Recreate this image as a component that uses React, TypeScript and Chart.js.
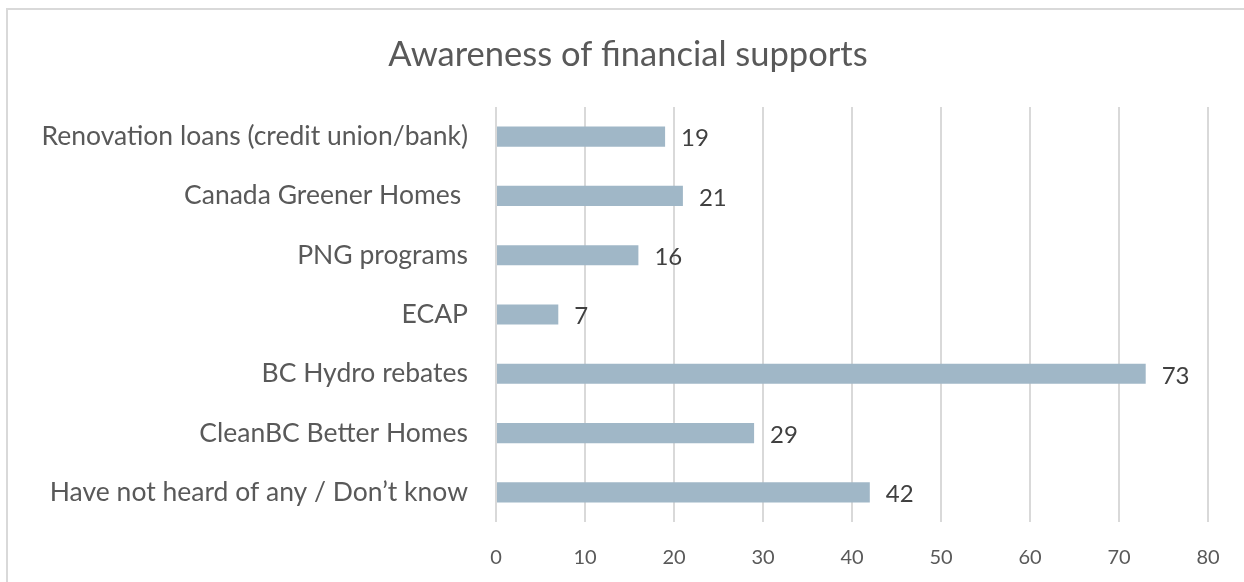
import React, { useEffect, useRef } from "react";
import { Chart, registerables } from "chart.js";

Chart.register(...registerables);

const TITLE = "Awareness of financial supports";
const CATEGORIES = [
  "Renovation loans (credit union/bank)",
  "Canada Greener Homes ",
  "PNG programs",
  "ECAP",
  "BC Hydro rebates",
  "CleanBC Better Homes",
  "Have not heard of any / Don\u2019t know",
];
const VALUES = [19, 21, 16, 7, 73, 29, 42];
const X_MIN = 0;
const X_MAX = 80;
const X_STEP = 10;

const FONT = "Lato, 'Open Sans', sans-serif";

const valueLabels = {
  id: "valueLabels",
  afterDatasetsDraw(chart: any) {
    const ctx = chart.ctx;
    const meta = chart.getDatasetMeta(0);
    ctx.save();
    ctx.font = `24px ${FONT}`;
    ctx.fillStyle = "#404040";
    ctx.textAlign = "left";
    ctx.textBaseline = "middle";
    meta.data.forEach((bar: any, i: number) => {
      ctx.fillText(String(VALUES[i]), bar.x + 16, bar.y + 2);
    });
    ctx.restore();
  },
};

const centeredTitle = {
  id: "centeredTitle",
  afterDraw(chart: any) {
    const ctx = chart.ctx;
    ctx.save();
    ctx.font = `34.5px ${FONT}`;
    ctx.fillStyle = "#595959";
    ctx.textAlign = "center";
    ctx.textBaseline = "middle";
    ctx.fillText(TITLE, 628, 55);
    ctx.restore();
  },
};

export default function App() {
  const ref = useRef<HTMLCanvasElement | null>(null);
  useEffect(() => {
    if (!ref.current) return;
    const chart = new Chart(ref.current, {
      type: "bar",
      data: {
        labels: CATEGORIES,
        datasets: [
          {
            data: VALUES,
            backgroundColor: "#A0B7C7",
            borderWidth: 0,
            categoryPercentage: 1,
            barPercentage: 0.34,
          },
        ],
      },
      options: {
        indexAxis: "y",
        animation: false,
        responsive: false,
        maintainAspectRatio: false,
        layout: { padding: { left: 0, right: 36, top: 107, bottom: 0 } },
        plugins: {
          legend: { display: false },
          tooltip: { enabled: false },
          title: { display: false },
        },
        scales: {
          x: {
            min: X_MIN,
            max: X_MAX,
            ticks: {
              stepSize: X_STEP,
              color: "#595959",
              font: { family: FONT, size: 20 },
              padding: 24,
            },
            grid: { color: "#d9d9d9", lineWidth: 2, drawTicks: false },
            border: { display: false },
            afterFit(scale: any) {
              scale.height = 60;
            },
          },
          y: {
            ticks: {
              color: "#595959",
              font: { family: FONT, size: 26.5 },
              padding: 28,
            },
            grid: { display: false, drawTicks: false },
            border: { display: false },
            afterFit(scale: any) {
              scale.width = 496;
            },
          },
        },
      },
      plugins: [valueLabels, centeredTitle],
    });
    return () => chart.destroy();
  }, []);

  return (
    <div
      style={{
        position: "fixed",
        left: 0,
        top: 0,
        width: 1244,
        height: 582,
        overflow: "hidden",
        background: "#fff",
      }}
    >
      <div
        style={{
          position: "absolute",
          left: 6,
          top: 8,
          width: 1260,
          height: 600,
          border: "2px solid #d9d9d9",
        }}
      />
      <canvas
        ref={ref}
        width={1244}
        height={582}
        style={{ position: "absolute", left: 0, top: 0 }}
      />
    </div>
  );
}
